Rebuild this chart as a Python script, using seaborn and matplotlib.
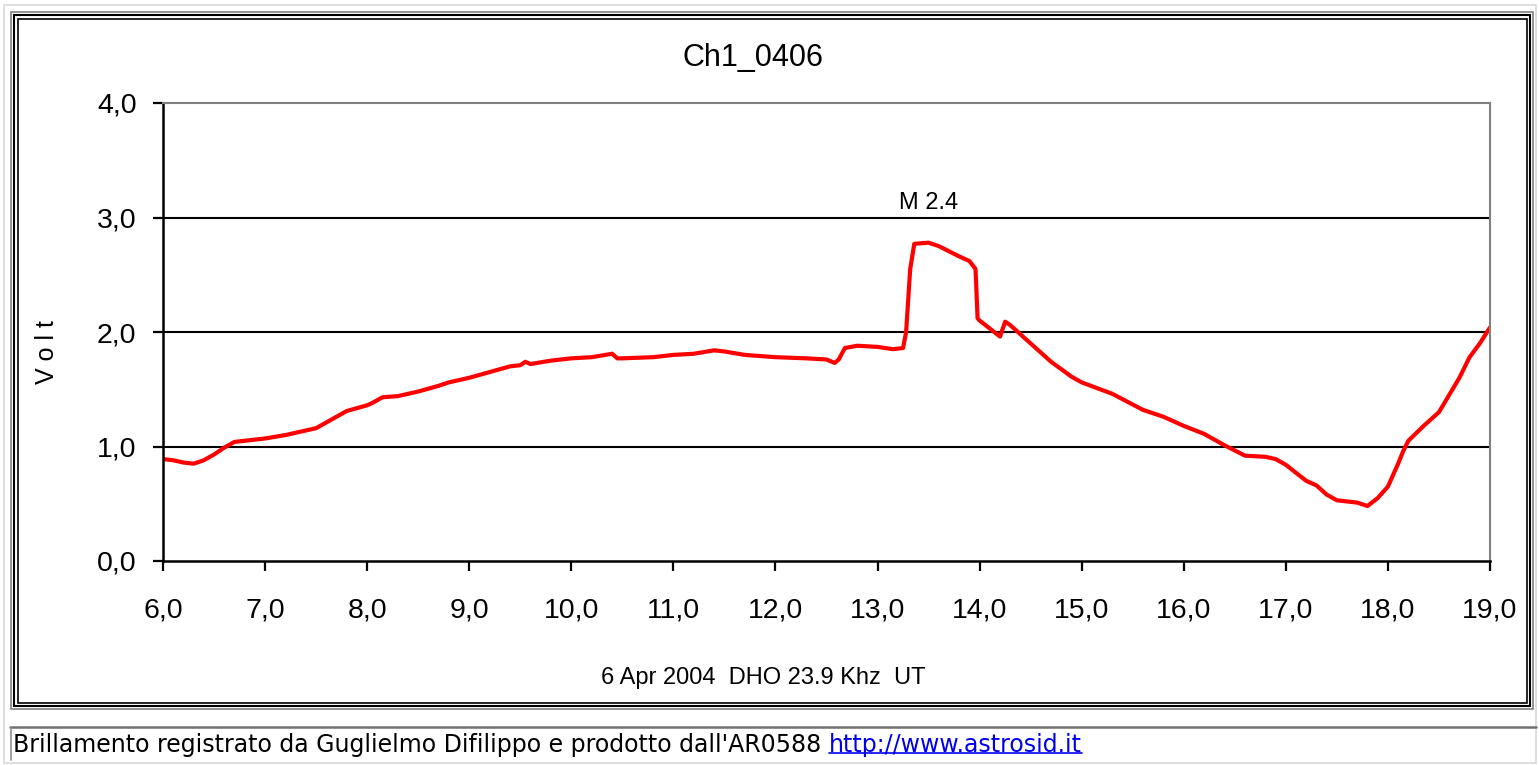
import matplotlib
matplotlib.use("Agg")
import matplotlib.pyplot as plt
import seaborn as sns
import pandas as pd
from matplotlib.patches import Rectangle
from matplotlib.lines import Line2D
from matplotlib.ticker import FuncFormatter, MultipleLocator

# data (UT hours, volts)
hours = [6.0, 6.1, 6.2, 6.3, 6.4, 6.5, 6.6, 6.7, 6.9, 7.0,
         7.2, 7.3, 7.5, 7.7, 7.8, 8.0, 8.05, 8.15, 8.3, 8.5,
         8.7, 8.8, 9.0, 9.2, 9.4, 9.5, 9.55, 9.6, 9.8, 10.0,
         10.2, 10.4, 10.45, 10.5, 10.8, 11.0, 11.2, 11.4, 11.5, 11.7,
         12.0, 12.3, 12.5, 12.58, 12.62, 12.68, 12.8, 13.0, 13.15, 13.25,
         13.28, 13.32, 13.36, 13.5, 13.6, 13.8, 13.9, 13.96, 13.98, 14.0,
         14.1, 14.2, 14.25, 14.3, 14.5, 14.7, 14.9, 15.0, 15.3, 15.6,
         15.8, 16.0, 16.2, 16.4, 16.6, 16.8, 16.9, 17.0, 17.1, 17.2,
         17.3, 17.4, 17.5, 17.7, 17.8, 17.9, 18.0, 18.1, 18.15, 18.2,
         18.35, 18.5, 18.6, 18.7, 18.8, 18.9, 19.0]
volts = [0.89, 0.88, 0.86, 0.85, 0.88, 0.93, 0.99, 1.04, 1.06, 1.07,
         1.10, 1.12, 1.16, 1.26, 1.31, 1.36, 1.38, 1.43, 1.44, 1.48,
         1.53, 1.56, 1.60, 1.65, 1.70, 1.71, 1.74, 1.72, 1.75, 1.77,
         1.78, 1.81, 1.77, 1.77, 1.78, 1.80, 1.81, 1.84, 1.83, 1.80,
         1.78, 1.77, 1.76, 1.73, 1.76, 1.86, 1.88, 1.87, 1.85, 1.86,
         2.00, 2.55, 2.77, 2.78, 2.75, 2.66, 2.62, 2.55, 2.12, 2.10,
         2.03, 1.96, 2.09, 2.06, 1.90, 1.74, 1.61, 1.56, 1.46, 1.32,
         1.26, 1.18, 1.11, 1.01, 0.92, 0.91, 0.89, 0.84, 0.77, 0.70,
         0.66, 0.58, 0.53, 0.51, 0.48, 0.55, 0.65, 0.85, 0.96, 1.05,
         1.18, 1.30, 1.45, 1.60, 1.78, 1.90, 2.04]

df = pd.DataFrame({"UT": hours, "Volt": volts})

W, H = 1539, 765
sns.set_style("white")
plt.rcParams['font.family'] = ['Liberation Sans', 'DejaVu Sans']
plt.rcParams['text.color'] = 'black'
plt.rcParams['xtick.labelcolor'] = 'black'
plt.rcParams['ytick.labelcolor'] = 'black'

fig = plt.figure(figsize=(W / 100, H / 100), dpi=100)


def fx(p):
    return p / W


def fy(p):
    return 1 - p / H


ax = fig.add_axes([fx(163), fy(561), fx(1490) - fx(163), fy(103) - fy(561)])
sns.lineplot(data=df, x="UT", y="Volt", color="red", lw=3.0, ax=ax)

ax.set_xlim(6, 19)
ax.set_ylim(0, 4)
ax.xaxis.set_major_locator(MultipleLocator(1))
ax.yaxis.set_major_locator(MultipleLocator(1))
comma = FuncFormatter(lambda v, p: f"{v:.1f}".replace('.', ','))
ax.xaxis.set_major_formatter(comma)
ax.yaxis.set_major_formatter(comma)
ax.tick_params(direction='out', length=7, width=1.6, color='black',
               labelsize=20.5, bottom=True, left=True)
ax.tick_params(axis='x', pad=19)
ax.tick_params(axis='y', pad=12)
for y in [1, 2, 3]:
    ax.axhline(y, color='black', lw=1.5, zorder=1)
for s in ['left', 'bottom']:
    ax.spines[s].set_color('black')
    ax.spines[s].set_linewidth(1.8)
for s in ['top', 'right']:
    ax.spines[s].set_color('#808080')
    ax.spines[s].set_linewidth(1.5)

ax.set_xlabel("")
ax.set_ylabel("")
ax.text(13.5, 3.03, "M 2.4", ha='center', va='bottom', fontsize=17)
fig.text(fx(753), fy(58), "Ch1_0406", ha='center', va='center', fontsize=22)
fig.text(fx(763), fy(678), "6 Apr 2004  DHO 23.9 Khz  UT",
         ha='center', va='center', fontsize=17)
fig.text(fx(47), fy(352), "V o l t", rotation=90, ha='center', va='center',
         fontsize=18)

# page borders
def box(x0, y0, x1, y1, color, lw):
    fig.patches.append(Rectangle((fx(x0), fy(y1)), fx(x1) - fx(x0), fy(y0) - fy(y1),
                                 transform=fig.transFigure, fill=False,
                                 edgecolor=color, lw=lw))

box(4, 5, 1536, 763, '#d8d8d8', 1.2)
box(11, 12, 1533, 709, '#808080', 1.2)
box(14, 15, 1530, 706, 'black', 1.5)
box(18, 19, 1527, 703, 'black', 1.2)
fig.add_artist(Line2D([fx(10), fx(1536)], [fy(727), fy(727)], color='#707070', lw=1.8))
fig.add_artist(Line2D([fx(11), fx(11)], [fy(727), fy(760)], color='#909090', lw=1.2))

cap = fig.text(fx(13), fy(745), "Brillamento registrato da Guglielmo Difilippo e prodotto dall'AR0588 ",
               ha='left', va='center', fontsize=17, family='DejaVu Sans')
fig.canvas.draw()
r = fig.canvas.get_renderer()
bb = cap.get_window_extent(r).transformed(fig.transFigure.inverted())
link = fig.text(bb.x1, fy(745), "http://www.astrosid.it", ha='left', va='center',
                fontsize=17, family='DejaVu Sans', color='#0000ee')
lb = link.get_window_extent(r).transformed(fig.transFigure.inverted())
fig.add_artist(Line2D([lb.x0, lb.x1], [lb.y0 + 0.005, lb.y0 + 0.005], color='#0000ee', lw=1.2))

fig.savefig("out.png", dpi=100)
